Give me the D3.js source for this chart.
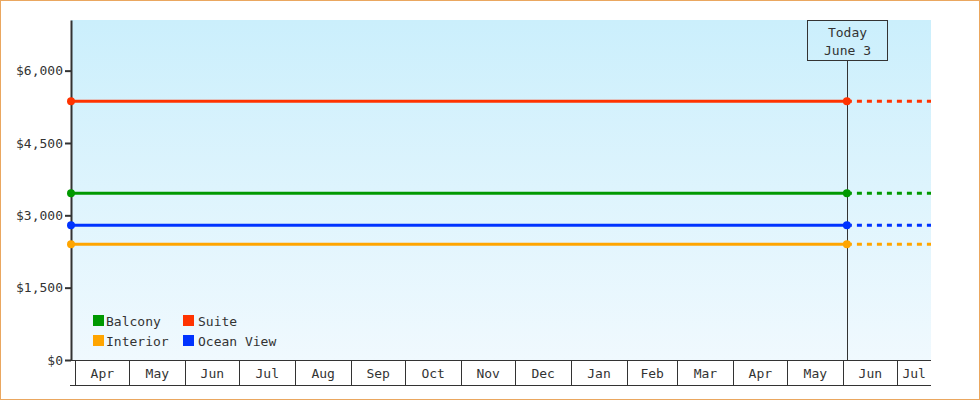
<!DOCTYPE html>
<html>
<head>
<meta charset="utf-8">
<script src="https://cdn.jsdelivr.net/npm/d3@7"></script>
<style>
  body { margin: 0; background: #fff; }
  svg { display: block; font-family: "DejaVu Sans Mono", monospace; font-size: 13px; }
  text { fill: #333; }
</style>
</head>
<body>
<svg id="chart" width="980" height="400"></svg>
<script>
// Data
const series = ["Balcony", "Suite", "Interior", "Ocean View"];
const prices = [3457, 5365, 2399, 2793];
const colors = ["#009900", "#ff3300", "#ffa500", "#0033ff"];
const yTicks = [0, 1500, 3000, 4500, 6000];
const startDate = new Date(2024, 2, 29, 14, 45);
const endDate = new Date(2025, 6, 19, 15, 40);
const today = new Date(2025, 5, 3);
const todayLabel = ["Today", "June 3"];

const svg = d3.select("#chart");
const margin = { left: 71, right: 49, top: 20, bottom: 40 };
const width = +svg.attr("width");
const height = +svg.attr("height");
const plotBottom = height - margin.bottom;
const plotRight = width - margin.right;

const x = d3.scaleTime().domain([startDate, endDate]).range([margin.left, plotRight]);
const y = d3.scaleLinear().domain([0, 7050]).range([plotBottom, margin.top]);

// Outer border
svg.append("rect")
    .attr("x", 0.5).attr("y", 0.5)
    .attr("width", width - 1).attr("height", height - 1)
    .attr("fill", "#fff")
    .attr("stroke", "#eaa760");

// Background gradient
const grad = svg.append("defs").append("linearGradient")
    .attr("id", "bg").attr("x1", 0).attr("y1", 0).attr("x2", 0).attr("y2", 1);
grad.append("stop").attr("offset", "0%").attr("stop-color", "#cbeffc");
grad.append("stop").attr("offset", "100%").attr("stop-color", "#f0f9fe");

svg.append("rect")
    .attr("x", margin.left).attr("y", margin.top)
    .attr("width", plotRight - margin.left)
    .attr("height", plotBottom - margin.top)
    .attr("fill", "url(#bg)");

// Price lines: solid up to today, dashed after
const lines = svg.append("g");
series.forEach((name, i) => {
    lines.append("line")
        .attr("x1", x(startDate)).attr("x2", x(today))
        .attr("y1", y(prices[i])).attr("y2", y(prices[i]))
        .attr("stroke", colors[i]).attr("stroke-width", 3);
    lines.append("line")
        .attr("x1", x(today)).attr("x2", x(endDate))
        .attr("y1", y(prices[i])).attr("y2", y(prices[i]))
        .attr("stroke", colors[i]).attr("stroke-width", 3)
        .attr("stroke-dasharray", "5,5");
});

// Today marker
const tx = Math.round(x(today)) + 0.5;
svg.append("line")
    .attr("x1", tx).attr("x2", tx)
    .attr("y1", margin.top + 40).attr("y2", plotBottom)
    .attr("stroke", "#333").attr("stroke-width", 1);
svg.append("rect")
    .attr("x", tx - 40).attr("y", margin.top + 0.5)
    .attr("width", 80).attr("height", 40)
    .attr("fill", "none").attr("stroke", "#333");
svg.append("g").selectAll("text")
    .data(todayLabel)
    .enter().append("text")
    .attr("x", tx)
    .attr("y", (d, i) => margin.top + 17 + i * 18)
    .attr("text-anchor", "middle")
    .text(d => d);

// Y axis
const yAxis = svg.append("g")
    .attr("transform", "translate(" + margin.left + ",0)")
    .call(d3.axisLeft(y)
        .tickValues(yTicks)
        .tickSize(6)
        .tickSizeOuter(0)
        .tickPadding(2)
        .tickFormat(d => "$" + d3.format(",")(d)));
yAxis.select(".domain").attr("stroke", "#333").attr("stroke-width", 2);
yAxis.selectAll(".tick line").attr("stroke", "#333").attr("stroke-width", 2);
yAxis.selectAll(".tick text")
    .attr("fill", "#333")
    .style("font-family", "DejaVu Sans Mono, monospace")
    .style("font-size", "13px");

// X axis: month bands
const months = d3.timeMonth.range(d3.timeMonth.ceil(startDate), endDate);
const xAxis = svg.append("g");
xAxis.append("line")
    .attr("x1", margin.left - 1).attr("x2", plotRight)
    .attr("y1", plotBottom + 0.5).attr("y2", plotBottom + 0.5)
    .attr("stroke", "#333");
xAxis.append("line")
    .attr("x1", margin.left - 1).attr("x2", plotRight)
    .attr("y1", plotBottom + 25.5).attr("y2", plotBottom + 25.5)
    .attr("stroke", "#333");
xAxis.selectAll(".month-line")
    .data(months)
    .enter().append("line")
    .attr("class", "month-line")
    .attr("x1", d => Math.round(x(d)) + 0.5)
    .attr("x2", d => Math.round(x(d)) + 0.5)
    .attr("y1", plotBottom).attr("y2", plotBottom + 25)
    .attr("stroke", "#333");
xAxis.selectAll(".month-label")
    .data(months)
    .enter().append("text")
    .attr("class", "month-label")
    .attr("x", d => {
        const next = d3.timeMonth.offset(d, 1);
        const right = Math.min(x(next), plotRight);
        return (x(d) + right) / 2;
    })
    .attr("y", plotBottom + 18)
    .attr("text-anchor", "middle")
    .text(d => d3.timeFormat("%b")(d));

// Dots at start and today
series.forEach((name, i) => {
    svg.selectAll(".dot-" + i)
        .data([startDate, today])
        .enter().append("circle")
        .attr("cx", d => x(d))
        .attr("cy", y(prices[i]))
        .attr("r", 4)
        .attr("fill", colors[i]);
});

// Legend
const legend = svg.append("g").attr("transform", "translate(93,315)");
const item = legend.selectAll("g")
    .data(series)
    .enter().append("g")
    .attr("transform", (d, i) => "translate(" + (i % 2) * 90 + "," + Math.floor(i / 2) * 20 + ")");
item.append("rect")
    .attr("width", 11).attr("height", 11)
    .attr("fill", (d, i) => colors[i]);
item.append("text")
    .attr("x", (d, i) => i % 2 ? 15 : 13)
    .attr("y", 10.5)
    .text(d => d);
</script>
</body>
</html>
